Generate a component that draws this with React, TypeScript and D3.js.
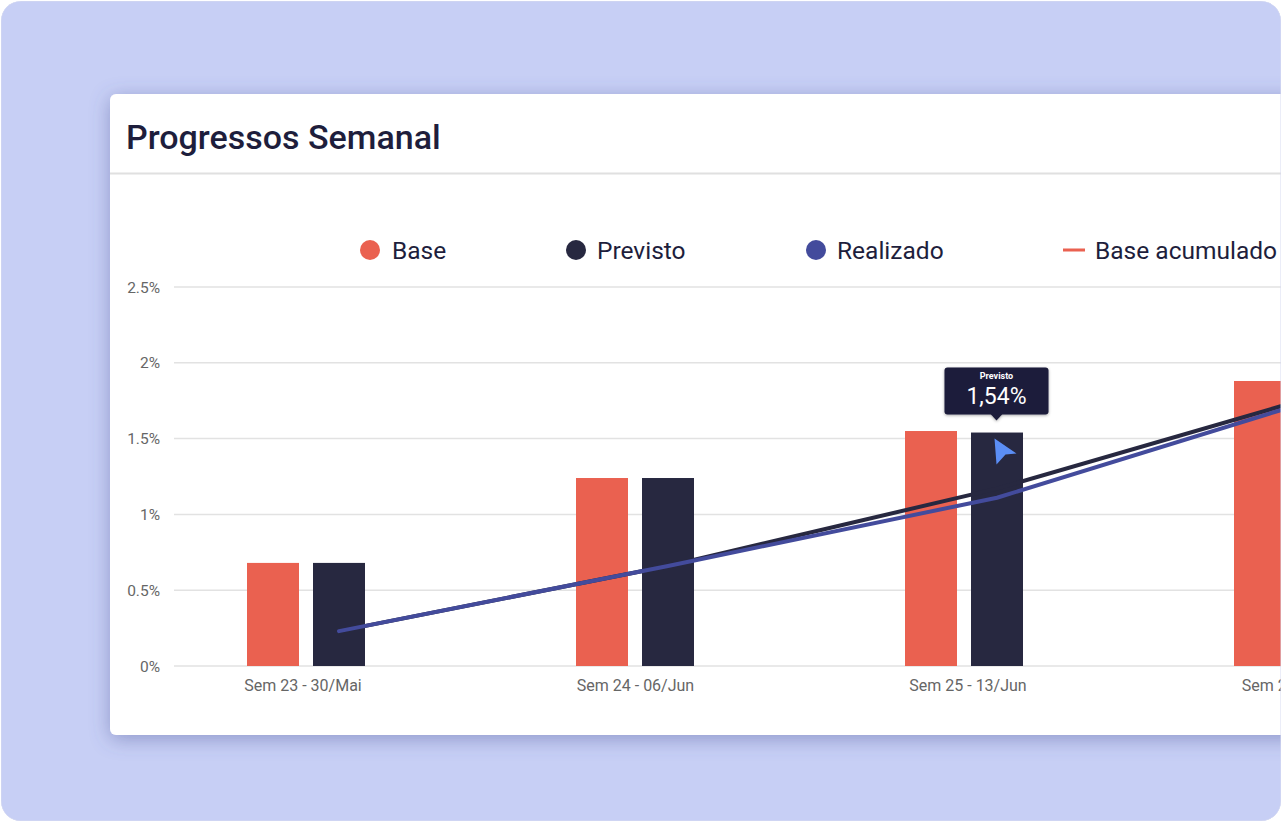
import { scaleBand, scaleLinear, scalePoint, line } from "d3";

const W = 1282;
const H = 822;

const categories = ["Sem 23 - 30/Mai", "Sem 24 - 06/Jun", "Sem 25 - 13/Jun", "Sem 26 - 20/Jun"];
const baseValues = [0.68, 1.24, 1.55, 1.88];
const previstoValues = [0.68, 1.24, 1.54, 1.9];
const previstoAcum = [0.23, 0.66, 1.17, 1.8];
const realizadoAcum = [0.23, 0.66, 1.11, 1.78];
const yTicks = [0, 0.5, 1, 1.5, 2, 2.5];

const C = {
  base: "#ea6150",
  previsto: "#272840",
  realizado: "#434b9c",
  text: "#1e1e3c",
  axis: "#666666",
  grid: "#e2e2e2",
};

const plotLeft = 174;
const yScale = scaleLinear().domain([0, 2.5]).range([666, 287]);
const xBand = scaleBand().domain(categories).range([182, 182 + 329 * 4]).paddingInner(0);
const xLabel = scalePoint().domain(categories).range([303, 303 + 332.5 * 3]);
const barW = 52;
const barGap = 14;
const baseX = (c: string) => (xBand(c) as number) + 65;
const prevX = (c: string) => baseX(c) + barW + barGap;
const lineX = (i: number) => prevX(categories[i]) + barW / 2;

const linePath = line<number>()
  .x((_, i) => lineX(i))
  .y((d) => yScale(d));

const fmtTick = (v: number) => `${v}%`;

export default function App() {
  const font = "Roboto, 'Noto Sans', sans-serif";
  const tipCat = categories[2];
  const tipCx = prevX(tipCat) + barW / 2 - 0.5;
  const tipY = yScale(previstoValues[2]);
  return (
    <div style={{ position: "absolute", left: 0, top: 0 }}>
      <svg width={W} height={H} style={{ display: "block", fontFamily: font }}>
        <defs>
          <clipPath id="frame">
            <rect x={1} y={1} width={1280} height={820} rx={20} />
          </clipPath>
          <filter id="cardShadow" x="-10%" y="-10%" width="120%" height="130%">
            <feDropShadow dx={0} dy={4} stdDeviation={10} floodColor="#4a5596" floodOpacity={0.45} />
          </filter>
          <filter id="tipShadow" x="-20%" y="-20%" width="140%" height="160%">
            <feDropShadow dx={0} dy={1} stdDeviation={1.5} floodColor="#000" floodOpacity={0.35} />
          </filter>
        </defs>
        <rect width={W} height={H} fill="#ffffff" />
        <g clipPath="url(#frame)">
          <rect x={1} y={1} width={1280} height={820} fill="#c7cff5" />
          <rect x={110} y={94} width={1190} height={641} rx={6} fill="#ffffff" filter="url(#cardShadow)" />
          <line x1={110} x2={1282} y1={173.5} y2={173.5} stroke="#e0e0e0" strokeWidth={2} />
          <text x={126} y={149} fontSize={34} fontWeight={500} fill={C.text}>
            Progressos Semanal
          </text>

          {/* legend */}
          <g fontSize={24.5} fill={C.text}>
            <circle cx={370} cy={250} r={10} fill={C.base} />
            <text x={392} y={259}>Base</text>
            <circle cx={576} cy={250} r={10} fill={C.previsto} />
            <text x={597} y={259}>Previsto</text>
            <circle cx={816} cy={250} r={10} fill={C.realizado} />
            <text x={837} y={259}>Realizado</text>
            <line x1={1063} x2={1085} y1={250} y2={250} stroke={C.base} strokeWidth={3} />
            <text x={1095} y={259}>Base acumulado</text>
          </g>

          {/* grid + y axis */}
          {yTicks.map((t) => (
            <g key={t}>
              <line x1={plotLeft} x2={W} y1={yScale(t)} y2={yScale(t)} stroke={C.grid} strokeWidth={1.5} />
              <text x={160} y={yScale(t) + 5.5} textAnchor="end" fontSize={15.5} fill={C.axis}>
                {fmtTick(t)}
              </text>
            </g>
          ))}

          {/* bars */}
          {categories.map((c, i) => (
            <g key={c}>
              <rect x={baseX(c)} y={yScale(baseValues[i])} width={barW} height={yScale(0) - yScale(baseValues[i])} fill={C.base} />
              <rect x={prevX(c)} y={yScale(previstoValues[i])} width={barW} height={yScale(0) - yScale(previstoValues[i])} fill={C.previsto} />
              <text x={xLabel(c)} y={691} textAnchor="middle" fontSize={16} fill={C.axis}>
                {c}
              </text>
            </g>
          ))}

          {/* cumulative lines */}
          <path d={linePath(previstoAcum) ?? ""} fill="none" stroke={C.previsto} strokeWidth={4} strokeLinecap="round" strokeLinejoin="round" />
          <path d={linePath(realizadoAcum) ?? ""} fill="none" stroke={C.realizado} strokeWidth={4} strokeLinecap="round" strokeLinejoin="round" />

          {/* tooltip */}
          <g filter="url(#tipShadow)">
            <rect x={tipCx - 52} y={tipY - 65} width={104} height={47} rx={3} fill="#1d1d3a" />
            <path d={`M${tipCx - 6},${tipY - 18.5} L${tipCx},${tipY - 12} L${tipCx + 6},${tipY - 18.5} Z`} fill="#1d1d3a" />
          </g>
          <text x={tipCx} y={tipY - 54} textAnchor="middle" fontSize={9} fontWeight={700} fill="#ffffff">
            Previsto
          </text>
          <text x={tipCx} y={tipY - 29} textAnchor="middle" fontSize={23} fill="#ffffff">
            1,54%
          </text>

          {/* cursor */}
          <path
            d={`M${tipCx - 2},${tipY + 6} L${tipCx + 20},${tipY + 21} L${tipCx + 9},${tipY + 22} L${tipCx},${tipY + 32} Z`}
            fill="#5b8ef5"
          />
          <rect x={1} y={1} width={1280} height={820} rx={20} fill="none" stroke="#d6daf0" strokeWidth={1} />
        </g>
      </svg>
    </div>
  );
}
